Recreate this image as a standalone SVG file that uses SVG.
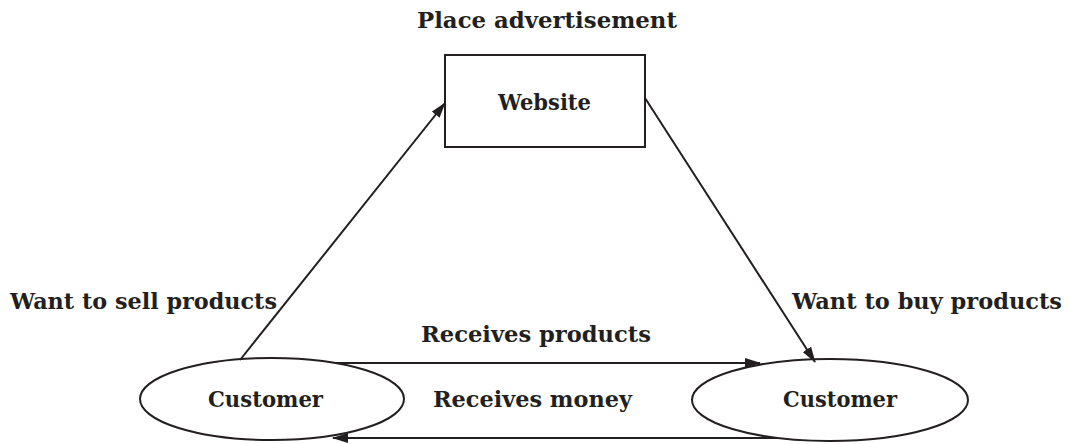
<svg xmlns="http://www.w3.org/2000/svg" width="1070" height="444" viewBox="0 0 1070 444">
<style>
text{font-family:"DejaVu Serif","Liberation Serif",serif;font-weight:bold;font-size:21.5px;fill:#231f20}
.n{fill:#fff;stroke:#231f20;stroke-width:2}
.c{stroke:#231f20;stroke-width:2;fill:none}
</style>
<defs>
<marker id="ah" markerWidth="16" markerHeight="10" refX="15" refY="5" orient="auto" markerUnits="userSpaceOnUse">
<path d="M0,0 L16,5 L0,10 Z" fill="#231f20"/>
</marker>
</defs>
<rect width="1070" height="444" fill="#fff"/>
<g id="website">
<rect class="n" x="445" y="55" width="200" height="92"/>
<text x="498" y="110" textLength="93" lengthAdjust="spacingAndGlyphs">Website</text>
</g>
<g id="customer-left">
<ellipse class="n" cx="272" cy="399" rx="132" ry="41"/>
<text x="208" y="407" textLength="115" lengthAdjust="spacingAndGlyphs">Customer</text>
</g>
<g id="customer-right">
<ellipse class="n" cx="830" cy="400" rx="138" ry="41"/>
<text x="783" y="407" textLength="114" lengthAdjust="spacingAndGlyphs">Customer</text>
</g>
<g id="connectors">
<line class="c" x1="240" y1="360" x2="445" y2="103" marker-end="url(#ah)"/>
<line class="c" x1="645" y1="98" x2="815" y2="362" marker-end="url(#ah)"/>
<line class="c" x1="335" y1="363" x2="760" y2="363" marker-end="url(#ah)"/>
<line class="c" x1="777" y1="438" x2="333" y2="438" marker-end="url(#ah)"/>
</g>
<g id="labels">
<text x="417" y="28" textLength="260" lengthAdjust="spacingAndGlyphs">Place advertisement</text>
<text x="10" y="309" textLength="267" lengthAdjust="spacingAndGlyphs">Want to sell products</text>
<text x="792" y="309" textLength="270" lengthAdjust="spacingAndGlyphs">Want to buy products</text>
<text x="421" y="342" textLength="230" lengthAdjust="spacingAndGlyphs">Receives products</text>
<text x="433" y="407" textLength="199" lengthAdjust="spacingAndGlyphs">Receives money</text>
</g>
</svg>
